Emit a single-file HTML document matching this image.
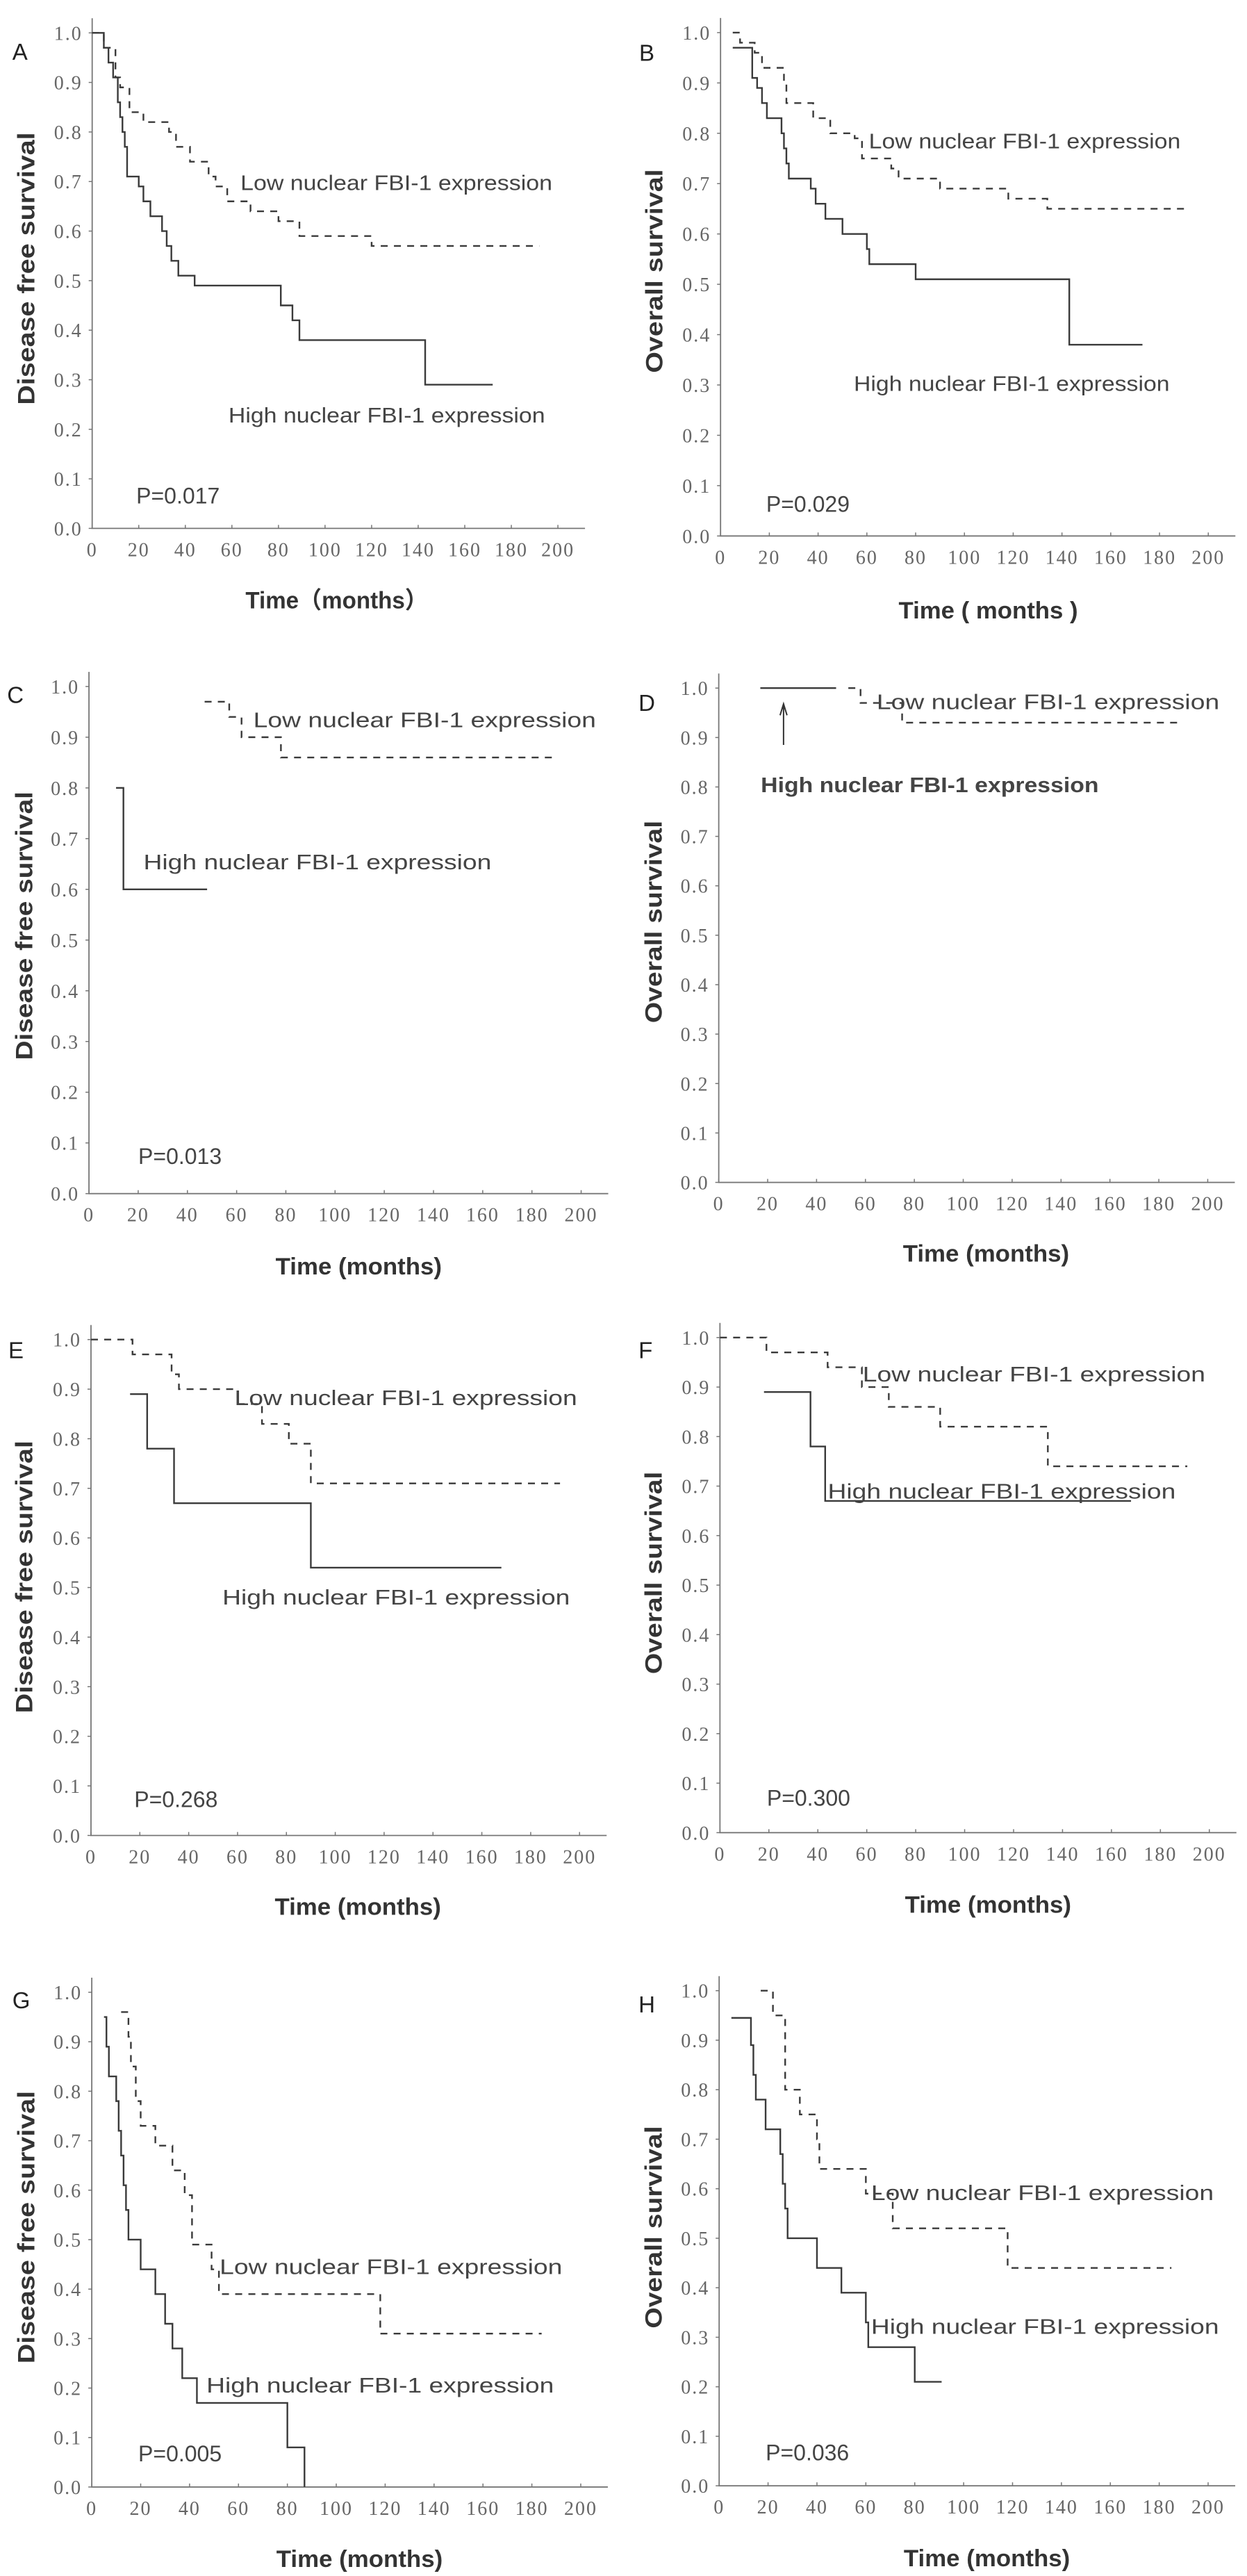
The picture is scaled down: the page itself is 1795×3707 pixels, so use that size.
<!DOCTYPE html>
<html><head><meta charset="utf-8"><style>
html,body{margin:0;padding:0;background:#fff;}
svg{display:block;}
</style></head><body>
<svg id="fig" xmlns="http://www.w3.org/2000/svg" width="1795" height="3707" viewBox="0 0 1795 3707"></svg>
<script>
// ---- data (time in months, survival after step) ----
const xTicks = [0,20,40,60,80,100,120,140,160,180,200];
const yTicks = [0.0,0.1,0.2,0.3,0.4,0.5,0.6,0.7,0.8,0.9,1.0];

const aHighT = [0,5,7,9,11,12,13,14,15,20,22,25,30,32,34,37,44,81,86,89,143];
const aHighS = [1.0,0.97,0.94,0.91,0.86,0.83,0.80,0.77,0.71,0.69,0.66,0.63,0.60,0.57,0.54,0.51,0.49,0.45,0.42,0.38,0.29];
const aHighEnd = 172;
const aLowT = [0,5,10,12,16,22,33,36,42,50,53,58,68,80,89,120];
const aLowS = [1.0,0.97,0.91,0.89,0.84,0.82,0.80,0.77,0.74,0.71,0.69,0.66,0.64,0.62,0.59,0.57];
const aLowEnd = 192;

const bHighT = [5,13,15,17,19,25,26,27,28,37,39,43,50,60,61,80,143];
const bHighS = [0.97,0.91,0.89,0.86,0.83,0.80,0.77,0.74,0.71,0.69,0.66,0.63,0.60,0.57,0.54,0.51,0.38];
const bHighEnd = 173;
const bLowT = [5,8,14,17,26,27,38,45,55,58,70,73,90,118,134];
const bLowS = [1.0,0.98,0.96,0.93,0.90,0.86,0.83,0.80,0.79,0.75,0.73,0.71,0.69,0.67,0.65];
const bLowEnd = 192;

const cHighT = [11,14];
const cHighS = [0.80,0.60];
const cHighEnd = 48;
const cLowT = [47,57,62,78];
const cLowS = [0.97,0.94,0.90,0.86];
const cLowEnd = 189;

const dHighT = [17];
const dHighS = [1.0];
const dHighEnd = 48;
const dLowT = [53,58,75];
const dLowS = [1.0,0.97,0.93];
const dLowEnd = 189;

const eHighT = [16,23,34,90];
const eHighS = [0.89,0.78,0.67,0.54];
const eHighEnd = 168;
const eLowT = [0,17,33,36,60,70,81,90];
const eLowS = [1.0,0.97,0.93,0.90,0.87,0.83,0.79,0.71];
const eLowEnd = 192;

const fHighT = [18,37,43];
const fHighS = [0.89,0.78,0.67];
const fHighEnd = 168;
const fLowT = [0,19,44,58,69,90,134];
const fLowS = [1.0,0.97,0.94,0.90,0.86,0.82,0.74];
const fLowEnd = 191;

const gHighT = [5,6,7,10,11,12,13,14,15,20,26,30,33,37,43,80,87];
const gHighS = [0.95,0.89,0.83,0.78,0.72,0.67,0.61,0.56,0.50,0.44,0.39,0.33,0.28,0.22,0.17,0.08,0.0];
const gHighEnd = 87;
const gLowT = [12,15,16,18,20,26,33,38,41,49,52,118];
const gLowS = [0.96,0.91,0.85,0.78,0.73,0.69,0.64,0.59,0.49,0.44,0.39,0.31];
const gLowEnd = 184;

const hHighT = [5,13,14,15,19,25,26,27,28,40,50,60,61,80];
const hHighS = [0.945,0.89,0.83,0.78,0.72,0.67,0.61,0.56,0.50,0.44,0.39,0.33,0.28,0.21];
const hHighEnd = 91;
const hLowT = [17,22,27,33,40,41,60,71,118];
const hLowS = [1.0,0.95,0.80,0.75,0.70,0.64,0.59,0.52,0.44];
const hLowEnd = 185;

const pValues = ["P=0.017","P=0.029","P=0.013",null,"P=0.268","P=0.300","P=0.005","P=0.036"];

// ---- layout (display coords of zoom crops) ----
const NS = "http://www.w3.org/2000/svg";
const svg = document.getElementById('fig');
const F = 900/1560;
const panels = [
 {id:'a',letter:'A',ox:0,oy:0,f:F,ax:[230,1392,82,1318],yl:'Disease free survival',xt:'Time（months）',xtw:455,ylw:680,
  hi:[aHighT,aHighS,aHighEnd],lo:[aLowT,aLowS,aLowEnd],low:[600,450,778],high:[570,1030,790],p:[340,1230],tt:[840,1490],ylp:[65,670],lp:[55,125]},
 {id:'b',letter:'B',ox:880,oy:0,f:915/1560,ax:[268,1465,80,1315],yl:'Overall survival',xt:'Time ( months )',xtw:440,ylw:500,
  hi:[bHighT,bHighS,bHighEnd],lo:[bLowT,bLowS,bLowEnd],low:[632,340,765],high:[595,935,775],p:[380,1230],tt:[925,1490],ylp:[105,665],lp:[92,125]},
 {id:'c',letter:'C',ox:0,oy:940,f:F,ax:[222,1450,83,1348],yl:'Disease free survival',xt:'Time (months)',xtw:415,ylw:670,
  hi:[cHighT,cHighS,cHighEnd],lo:[cLowT,cLowS,cLowEnd],low:[632,160,855],high:[358,515,868],p:[345,1248],tt:[895,1522],ylp:[60,680],lp:[42,100]},
 {id:'d',letter:'D',ox:880,oy:940,f:F,ax:[268,1488,87,1320],yl:'Overall survival',xt:'Time (months)',xtw:415,ylw:505,
  hi:[dHighT,dHighS,dHighEnd],lo:[dLowT,dLowS,dLowEnd],low:[662,115,855],high:[373,322,843],p:null,tt:[935,1490],ylp:[105,670],lp:[92,120],arrow:true},
 {id:'e',letter:'E',ox:0,oy:1900,f:F,ax:[227,1446,48,1285],yl:'Disease free survival',xt:'Time (months)',xtw:415,ylw:680,
  hi:[eHighT,eHighS,eHighEnd],lo:[eLowT,eLowS,eLowEnd],low:[585,187,855],high:[555,685,867],p:[335,1188],tt:[893,1455],ylp:[60,640],lp:[45,70]},
 {id:'f',letter:'F',ox:880,oy:1900,f:F,ax:[271,1492,43,1278],yl:'Overall survival',xt:'Time (months)',xtw:415,ylw:505,
  hi:[fHighT,fHighS,fHighEnd],lo:[fLowT,fLowS,fLowEnd],low:[627,128,855],high:[540,420,868],p:[388,1185],tt:[940,1450],ylp:[105,630],lp:[92,70]},
 {id:'g',letter:'G',ox:0,oy:2807,f:F,ax:[229,1449,104,1338],yl:'Disease free survival',xt:'Time (months)',xtw:415,ylw:680,
  hi:[gHighT,gHighS,gHighEnd],lo:[gLowT,gLowS,gLowEnd],low:[548,783,855],high:[515,1078,867],p:[345,1248],tt:[897,1510],ylp:[65,690],lp:[55,120]},
 {id:'h',letter:'H',ox:880,oy:2807,f:F,ax:[269,1489,100,1335],yl:'Overall survival',xt:'Time (months)',xtw:415,ylw:505,
  hi:[hHighT,hHighS,hHighEnd],lo:[hLowT,hLowS,hLowEnd],low:[648,598,855],high:[648,932,868],p:[385,1245],tt:[937,1508],ylp:[105,690],lp:[92,130]}
];

function mk(tag, attrs, parent, text){
  const el = document.createElementNS(NS, tag);
  for (const k in attrs) el.setAttribute(k, attrs[k]);
  if (text !== undefined) el.textContent = text;
  parent.appendChild(el);
  return el;
}

panels.forEach((P, idx) => {
  const X = d => P.ox + d*P.f, Y = d => P.oy + d*P.f;
  const x0 = X(P.ax[0]), x200 = X(P.ax[1]), y1 = Y(P.ax[2]), y0 = Y(P.ax[3]);
  const sx = t => x0 + (x200 - x0) * t / 200;
  const sy = s => y0 - (y0 - y1) * s;
  const g = mk('g', {}, svg);
  
  

  const axes = mk('path', {d:`M${x0},${y1-21}V${y0}H${x200+39}`, fill:'none', stroke:'#777', 'stroke-width':1.8}, g);
  
  
  xTicks.forEach(t => {
    const x = sx(t);
    mk('line', {x1:x, x2:x, y1:y0, y2:y0-5, stroke:'#777','stroke-width':1.5}, g);
    const lb = mk('text', {x:x, y:y0+40, 'text-anchor':'middle', 'font-family':'"Liberation Serif",serif', 'font-size':28, 'letter-spacing':2, fill:'#666'}, g, String(t));
    
    
  });
  yTicks.forEach(v => {
    const y = sy(v);
    mk('line', {x1:x0, x2:x0-5, y1:y, y2:y, stroke:'#777','stroke-width':1.5}, g);
    const lb = mk('text', {x:x0-14, y:y+10, 'text-anchor':'end', 'font-family':'"Liberation Serif",serif', 'font-size':28, 'letter-spacing':2, fill:'#666'}, g, v.toFixed(1));
    
    
  });

  function stepPath(T, S, end){
    let d = `M${sx(T[0])},${sy(S[0])}`;
    for (let i = 1; i < T.length; i++){ d += `H${sx(T[i])}V${sy(S[i])}`; }
    d += `H${sx(end)}`;
    return d;
  }
  const hi = mk('path', {d:stepPath(P.hi[0],P.hi[1],P.hi[2]), fill:'none', stroke:'#3a3a3a','stroke-width':2.4}, g);
  
  
  const lo = mk('path', {d:stepPath(P.lo[0],P.lo[1],P.lo[2]), fill:'none', stroke:'#3a3a3a','stroke-width':2.4,'stroke-dasharray':'10 9'}, g);
  
  

  const sans = '"Liberation Sans",sans-serif';
  const t1 = mk('text', {x:X(P.low[0]), y:Y(P.low[1])+14, 'font-family':sans,'font-size':31, fill:'#444', textLength:P.low[2]*P.f, lengthAdjust:'spacingAndGlyphs'}, g, 'Low nuclear FBI-1 expression');
  
  
  const t2 = mk('text', {x:X(P.high[0]), y:Y(P.high[1])+14, 'font-family':sans,'font-size':31, fill:'#444', textLength:P.high[2]*P.f, lengthAdjust:'spacingAndGlyphs', 'font-weight': P.id==='d'?'bold':'normal'}, g, 'High nuclear FBI-1 expression');
  
  
  if (pValues[idx]){
    const pv = mk('text', {x:X(P.p[0]), y:Y(P.p[1])+15, 'font-family':sans,'font-size':32, fill:'#444'}, g, pValues[idx]);
    
    
  }
  const xt = mk('text', {x:X(P.tt[0]), y:Y(P.tt[1])+16, 'text-anchor':'middle','font-family':'"Liberation Sans","Noto Sans CJK SC",sans-serif','font-size':34,'font-weight':'bold', fill:'#333', textLength:P.xtw*P.f, lengthAdjust:'spacingAndGlyphs'}, g, P.xt);
  
  
  const yx = X(P.ylp[0]), yy = Y(P.ylp[1]);
  const yt = mk('text', {x:yx+12, y:yy, 'text-anchor':'middle','font-family':sans,'font-size':34,'font-weight':'bold', fill:'#333', textLength:P.ylw*P.f, lengthAdjust:'spacingAndGlyphs', transform:`rotate(-90 ${yx+12} ${yy})`}, g, P.yl);
  
  
  const pl = mk('text', {x:X(P.lp[0])-14, y:Y(P.lp[1])+14, 'font-family':sans,'font-size':33, fill:'#222'}, g, P.letter);
  
  

  if (P.arrow){
    const ax = sx(26.5);
    const ar = mk('path', {d:`M${ax},${sy(0.885)}V${sy(0.965)}M${ax-5},${sy(0.945)}L${ax},${sy(0.968)}L${ax+5},${sy(0.945)}`, fill:'none', stroke:'#333','stroke-width':2}, g);
    
    
  }
});
</script>
</body></html>
